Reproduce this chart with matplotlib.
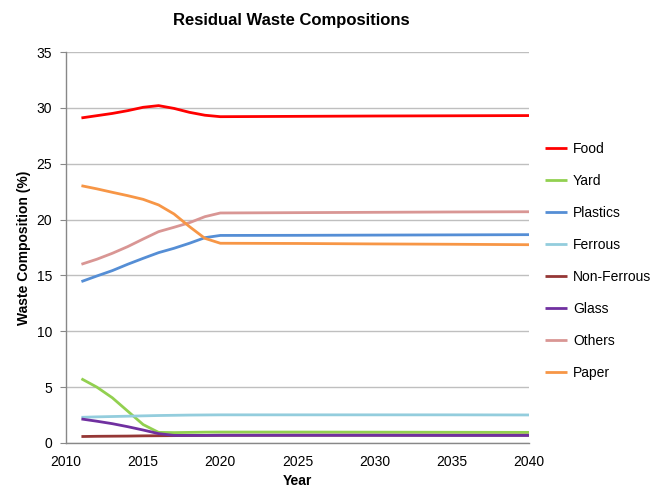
import matplotlib
matplotlib.use("Agg")
import matplotlib.pyplot as plt

plt.rcParams['font.family'] = ['Liberation Sans', 'DejaVu Sans']

years = [2011, 2012, 2013, 2014, 2015, 2016, 2017, 2018, 2019, 2020, 2025, 2030, 2035, 2040]

food        = [29.10, 29.30, 29.50, 29.75, 30.05, 30.20, 29.95, 29.60, 29.34, 29.21, 29.24, 29.27, 29.29, 29.31]
yard        = [5.75, 5.00, 4.05, 2.85, 1.65, 0.95, 0.93, 0.95, 0.97, 0.98, 0.98, 0.97, 0.96, 0.95]
plastics    = [14.45, 14.95, 15.43, 16.00, 16.53, 17.04, 17.43, 17.88, 18.38, 18.58, 18.59, 18.61, 18.63, 18.65]
ferrous     = [2.30, 2.34, 2.37, 2.40, 2.43, 2.46, 2.48, 2.50, 2.51, 2.52, 2.52, 2.52, 2.52, 2.51]
non_ferrous = [0.58, 0.60, 0.61, 0.62, 0.64, 0.65, 0.66, 0.67, 0.68, 0.69, 0.70, 0.70, 0.70, 0.70]
glass       = [2.15, 1.95, 1.73, 1.46, 1.16, 0.84, 0.68, 0.68, 0.68, 0.69, 0.69, 0.69, 0.68, 0.68]
others      = [16.00, 16.45, 16.98, 17.58, 18.26, 18.92, 19.31, 19.72, 20.26, 20.59, 20.62, 20.65, 20.68, 20.70]
paper       = [23.03, 22.75, 22.44, 22.14, 21.81, 21.31, 20.50, 19.37, 18.32, 17.88, 17.86, 17.82, 17.79, 17.75]

series = [
    ("Food", food, "#FF0000"),
    ("Yard", yard, "#92D050"),
    ("Plastics", plastics, "#558ED5"),
    ("Ferrous", ferrous, "#93CDDD"),
    ("Non-Ferrous", non_ferrous, "#953735"),
    ("Glass", glass, "#7030A0"),
    ("Others", others, "#D99694"),
    ("Paper", paper, "#F79646"),
]

fig = plt.figure(figsize=(6.57, 4.87), dpi=100)
ax = fig.add_axes([66/657, 1-443/487, (529-66)/657, (443-52)/487])

handles = []
for name, vals, col in series:
    h, = ax.plot(years, vals, color=col, lw=2.0, label=name, solid_capstyle='butt')
    handles.append(h)

ax.set_xlim(2010, 2040)
ax.set_ylim(0, 35)
ax.set_xticks(range(2010, 2041, 5))
ax.set_yticks(range(0, 36, 5))
ax.yaxis.grid(True, color="#BFBFBF", lw=1.0)
ax.set_axisbelow(True)
for s in ["top", "right"]:
    ax.spines[s].set_visible(False)
for s in ["left", "bottom"]:
    ax.spines[s].set_color("#888888")
    ax.spines[s].set_linewidth(1.0)
ax.tick_params(axis='y', length=4, color="#888888", labelsize=10, pad=6)
ax.tick_params(axis='x', length=0, labelsize=10, pad=9)

ax.set_xlabel("Year", fontsize=10, fontweight="bold", labelpad=3)
ax.set_ylabel("Waste Composition (%)", fontsize=10, fontweight="bold", labelpad=4)
fig.text(291/657, 1-20/487, "Residual Waste Compositions", ha="center", va="center",
         fontsize=12, fontweight="bold")

fig.legend(handles=handles, loc="center left", bbox_to_anchor=(541/657, 1-261/487),
           frameon=False, fontsize=10, handlelength=1.6, handletextpad=0.4,
           labelspacing=1.3, borderaxespad=0, borderpad=0.3)

fig.savefig("out.png", dpi=100)
